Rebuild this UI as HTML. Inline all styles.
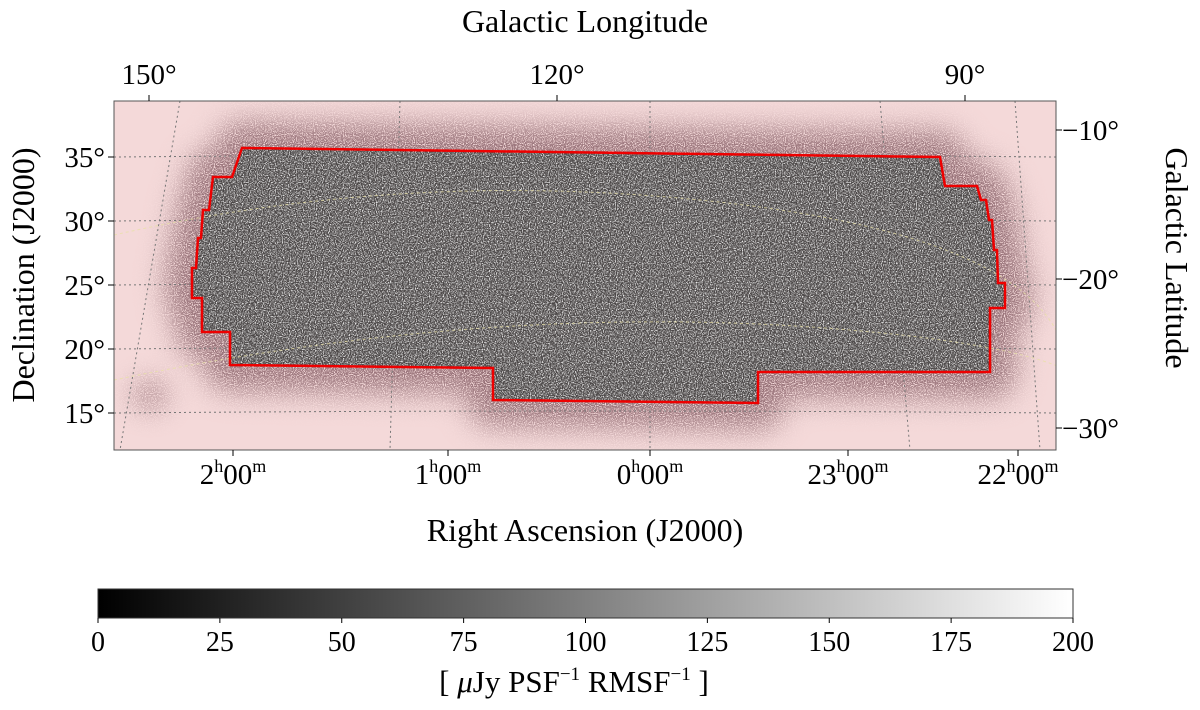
<!DOCTYPE html>
<html><head><meta charset="utf-8">
<style>
body{margin:0;background:#fff;}
svg{display:block;font-family:"Liberation Serif",serif;}
</style></head>
<body>
<svg id="chart" width="1200" height="710" viewBox="0 0 1200 710">
<defs>
<filter id="noise" x="0" y="0" width="100%" height="100%">
<feTurbulence type="fractalNoise" baseFrequency="0.85" numOctaves="2" seed="3" result="t"/>
<feColorMatrix type="matrix" values="0 0 0 0 0.95  0 0 0 0 0.95  0 0 0 0 0.95  3 0 0 0 -1.3" in="t" result="c"/>
<feComposite in="c" in2="SourceGraphic" operator="in"/>
</filter>
<filter id="speck" x="0" y="0" width="100%" height="100%">
<feTurbulence type="fractalNoise" baseFrequency="0.9" numOctaves="1" seed="11" result="t"/>
<feColorMatrix in="t" type="matrix" values="0 0 0 0 0.3  0 0 0 0 0.16  0 0 0 0 0.18  5 0 0 0 -1.7"/>
</filter>
<filter id="blur" x="-20%" y="-30%" width="140%" height="160%">
<feGaussianBlur stdDeviation="14"/>
</filter>
<filter id="blur2" x="-150%" y="-150%" width="400%" height="400%">
<feGaussianBlur stdDeviation="12"/>
</filter>
<mask id="halomask" maskUnits="userSpaceOnUse" x="0" y="0" width="1200" height="710">
<polygon id="maskpoly" fill="#fff" stroke="#fff" stroke-width="52" stroke-linejoin="round" filter="url(#blur)"/>
<ellipse cx="150" cy="395" rx="20" ry="18" fill="#999" filter="url(#blur2)"/>
</mask>
<linearGradient id="cbar" x1="0" x2="1" y1="0" y2="0">
<stop offset="0" stop-color="#000"/><stop offset="1" stop-color="#fff"/>
</linearGradient>
<clipPath id="plotclip"><rect x="114" y="101" width="942" height="349"/></clipPath>
</defs>

<g clip-path="url(#plotclip)">
<rect x="114" y="101" width="942" height="349" fill="#f4d9d9"/>
<g id="mapfill"></g>
<g id="grid"></g>
</g>
<rect x="114" y="101" width="942" height="349" fill="none" stroke="#555" stroke-width="1"/>
<g id="axes"></g>
<text x="585" y="32" font-size="32" text-anchor="middle">Galactic Longitude</text>
<text x="585" y="541" font-size="32" text-anchor="middle">Right Ascension (J2000)</text>
<text transform="translate(34,275) rotate(-90)" font-size="32" text-anchor="middle">Declination (J2000)</text>
<text transform="translate(1166,258) rotate(90)" font-size="32" text-anchor="middle">Galactic Latitude</text>

<rect x="98" y="589" width="975" height="29" fill="url(#cbar)" stroke="#333" stroke-width="1"/>
<g id="cbticks"></g>
<text x="574" y="692" font-size="31" text-anchor="middle">[ <tspan font-style="italic">μ</tspan>Jy PSF<tspan font-size="19" dy="-12">−1</tspan><tspan dy="12"> RMSF</tspan><tspan font-size="19" dy="-12">−1</tspan><tspan dy="12"> ]</tspan></text>
</svg>
<script>
const NS="http://www.w3.org/2000/svg";
const decTicks=[35,30,25,20,15];
const galLatTicks=[-10,-20,-30];
const raTicks=["2","1","0","23","22"];
const galLonTicks=[150,120,90];
const cbTicks=[0,25,50,75,100,125,150,175,200];
const yDec=d=>157+(35-d)*12.8;
const yLat=b=>130+(-10-b)*14.9;
const raIndex={"2":0,"1":1,"0":2,"23":3,"22":4};
const raX=[233,448,650,848,1018];
const raPos=h=>raX[raIndex[h]];
const xLon=l=>557+(120-l)*13.6;
const xCb=v=>98+v/200*975;
function mk(tag,attrs,parent,text){const e=document.createElementNS(NS,tag);for(const k in attrs)e.setAttribute(k,attrs[k]);if(text!==undefined)e.textContent=text;parent.appendChild(e);return e;}
const axes=document.getElementById('axes');
decTicks.forEach(d=>{const y=yDec(d);
 const l=mk('line',{x1:108,x2:114,y1:y,y2:y,stroke:'#000'},axes);
 
 const t=mk('text',{x:105,y:y+10,'font-size':29,'text-anchor':'end'},axes,d+'°');
 });
galLatTicks.forEach(b=>{const y=yLat(b);
 const l=mk('line',{x1:1056,x2:1062,y1:y,y2:y,stroke:'#000'},axes);
 
 const t=mk('text',{x:1062,y:y+10,'font-size':29},axes,'−'+Math.abs(b)+'°');
 });
raTicks.forEach(h=>{const x=raPos(h);
 const l=mk('line',{x1:x,x2:x,y1:450,y2:456,stroke:'#000'},axes);
 
 const t=mk('text',{x:x,y:484,'font-size':29,'text-anchor':'middle'},axes);
 
 t.innerHTML=h+'<tspan font-size="18" dy="-12">h</tspan><tspan dy="12">00</tspan><tspan font-size="18" dy="-12">m</tspan>';});
galLonTicks.forEach(g=>{const x=xLon(g);
 const l=mk('line',{x1:x,x2:x,y1:95,y2:101,stroke:'#000'},axes);
 
 const t=mk('text',{x:x,y:84,'font-size':29,'text-anchor':'middle'},axes,g+'°');
 });
const cb=document.getElementById('cbticks');
cbTicks.forEach(v=>{const x=xCb(v);
 const l=mk('line',{x1:x,x2:x,y1:618,y2:623,stroke:'#000'},cb);
 
 const t=mk('text',{x:x,y:651,'font-size':28,'text-anchor':'middle'},cb,String(v));
 });
const poly="242,148 940,157 945,186 977,186 981,200 986,200 989,220 992,220 994,250 997,250 998,283 1005,283 1005,308 990,308 990,372 758,372 758,403 493,400 493,368 230,365 230,332 202,332 202,298 192,298 192,268 196,268 198,238 201,238 203,210 209,210 213,177 232,177";
document.getElementById('maskpoly').setAttribute('points',poly);
const mf=document.getElementById('mapfill');
const h1=mk('rect',{x:114,y:101,width:942,height:349,fill:'#000',filter:'url(#speck)',mask:'url(#halomask)'},mf);

const base=mk('polygon',{points:poly,fill:'#4a4646'},mf);

const nz=mk('polygon',{points:poly,fill:'#fff',filter:'url(#noise)'},mf);

const g=document.getElementById('grid');
decTicks.forEach(d=>{const y=yDec(d);
 const p=mk('path',{d:`M114 ${y} Q585 ${y-4} 1056 ${y}`,fill:'none',stroke:'#777',"stroke-width":1,"stroke-dasharray":"2 3"},g);
 });
[[180,101,120,450],[400,101,390,450],[650,101,650,450],[880,101,910,450],[1015,101,1040,450]].forEach(c=>{
 const p=mk('line',{x1:c[0],y1:c[1],x2:c[2],y2:c[3],stroke:'#777',"stroke-width":1,"stroke-dasharray":"2 3"},g);
 });
const gl=mk('path',{d:'M114 235 Q400 170 700 200 T1056 330',fill:'none',stroke:'#e8e0a8','stroke-width':1,'stroke-dasharray':'3 3',opacity:0.8},g);

const gl2=mk('path',{d:'M114 380 Q500 300 850 330 T1056 450',fill:'none',stroke:'#e8e0a8','stroke-width':1,'stroke-dasharray':'3 3',opacity:0.8},g);

const outline=mk('polygon',{points:poly,fill:'none',stroke:'#ee0000','stroke-width':2.5},g);

</script>
</body></html>
